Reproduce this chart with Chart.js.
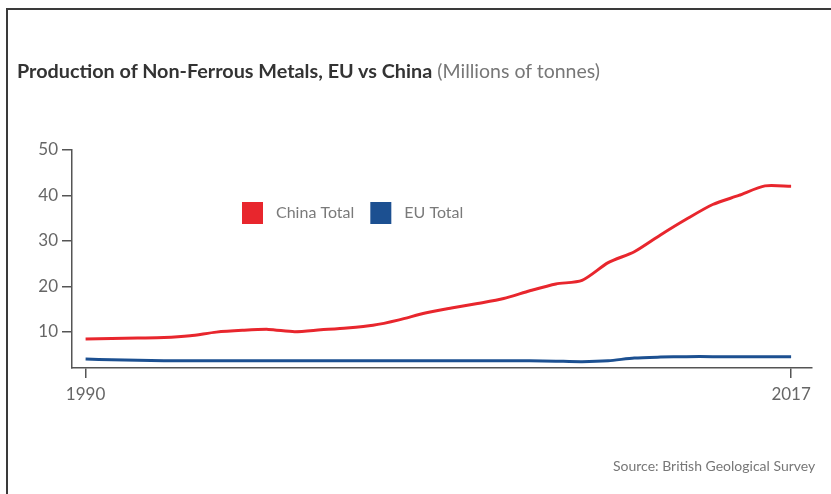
<!DOCTYPE html>
<html>
<head>
<meta charset="utf-8">
<script src="https://cdn.jsdelivr.net/npm/chart.js@4/dist/chart.umd.min.js"></script>
<style>
  body { margin: 0; background: #fff; }
  #lap { position: relative; width: 831px; height: 494px; overflow: hidden; background: #fff; }
  #lap canvas { position: absolute; left: 0; top: 0; }
  .keret-fent { position: absolute; left: 6px; top: 8px; right: 0; height: 2px; background: #3a3a3a; }
  .keret-bal { position: absolute; left: 6px; top: 8px; bottom: 0; width: 2px; background: #3a3a3a; }
  #cim { position: absolute; left: 17px; top: 58px; font-family: Lato, sans-serif; font-size: 19.8px; color: #333; white-space: nowrap; }
  #cim b { font-weight: 700; }
  #cim span { color: #777; font-weight: 400; font-size: 19.5px; }
  #forras { position: absolute; left: 613px; top: 457px; font-family: Lato, sans-serif; font-size: 14px; color: #777; white-space: nowrap; }
</style>
</head>
<body>
<div id="lap">
  <canvas id="grafikon" width="831" height="494"></canvas>
  <div class="keret-fent"></div>
  <div class="keret-bal"></div>
  <div id="cim"><b>Production of Non-Ferrous Metals, EU vs China</b> <span>(Millions of tonnes)</span></div>
  <div id="forras">Source: British Geological Survey</div>
</div>
<script>
// evek es ertekek (millio tonna), a kepről leolvasva
var evek = [1990, 1991, 1992, 1993, 1994, 1995, 1996, 1997, 1998, 1999,
            2000, 2001, 2002, 2003, 2004, 2005, 2006, 2007, 2008, 2009,
            2010, 2011, 2012, 2013, 2014, 2015, 2016, 2017];
var kinaOsszes = [8.4, 8.5, 8.6, 8.7, 9.1, 9.9, 10.3, 10.5, 10.0, 10.4,
                  10.8, 11.4, 12.6, 14.1, 15.2, 16.2, 17.3, 19.0, 20.5, 21.3,
                  25.2, 27.6, 31.3, 34.8, 38.0, 40.0, 42.1, 42.0];
var euOsszes = [4.0, 3.8, 3.7, 3.6, 3.6, 3.6, 3.6, 3.6, 3.6, 3.6,
                3.6, 3.6, 3.6, 3.6, 3.6, 3.6, 3.6, 3.6, 3.5, 3.4,
                3.6, 4.2, 4.4, 4.5, 4.5, 4.5, 4.5, 4.5];
var sorozatNevek = ["China Total", "EU Total"];
var xFeliratok = [1990, 2017];
var yFeliratok = [10, 20, 30, 40, 50];

function pontok(ertekek) {
    return ertekek.map(function (v, i) { return { x: evek[i], y: v }; });
}

// jelmagyarazat a rajzteruleten belul
var jelmagyarazat = {
    id: 'jelmagyarazat',
    afterDraw: function (chart) {
        var ctx = chart.ctx;
        var x = 242;
        ctx.save();
        ctx.font = '16px Lato';
        ctx.textBaseline = 'middle';
        chart.data.datasets.forEach(function (ds) {
            ctx.fillStyle = ds.borderColor;
            ctx.fillRect(x, 202, 21, 22);
            ctx.fillStyle = '#7a7a7a';
            ctx.fillText(ds.label, x + 34, 213);
            x += 34 + ctx.measureText(ds.label).width + 16;
        });
        ctx.restore();
    }
};

var tengelySzin = '#555';
var betu = { family: 'Lato', size: 17 };

new Chart(document.getElementById("grafikon"), {
    type: 'line',
    data: {
        datasets: [{
            label: sorozatNevek[0],
            data: pontok(kinaOsszes),
            borderColor: '#e8262d',
            backgroundColor: '#e8262d',
            borderWidth: 3,
            pointRadius: 0,
            tension: 0.25
        }, {
            label: sorozatNevek[1],
            data: pontok(euOsszes),
            borderColor: '#1c5091',
            backgroundColor: '#1c5091',
            borderWidth: 3,
            pointRadius: 0,
            tension: 0.25
        }]
    },
    options: {
        responsive: false,
        animation: false,
        layout: { padding: { top: 150, right: 19, left: 0, bottom: 0 } },
        plugins: {
            legend: { display: false },
            title: { display: false },
            tooltip: { enabled: false }
        },
        scales: {
            x: {
                type: 'linear',
                min: 1989.48,
                max: 2017.8,
                afterBuildTicks: function (axis) {
                    axis.ticks = xFeliratok.map(function (v) { return { value: v }; });
                },
                afterFit: function (axis) { axis.height = 126; },
                ticks: { color: '#666', font: betu, padding: 6, maxRotation: 0,
                         callback: function (v) { return String(v); } },
                grid: { drawOnChartArea: false, drawTicks: true, tickLength: 10, color: tengelySzin, lineWidth: 1.5 },
                border: { display: true, color: tengelySzin, width: 1.5 }
            },
            y: {
                min: 2,
                max: 50,
                afterBuildTicks: function (axis) {
                    axis.ticks = yFeliratok.map(function (v) { return { value: v }; });
                },
                afterFit: function (axis) { axis.width = 72; },
                ticks: { color: '#666', font: betu, padding: 4 },
                grid: { drawOnChartArea: false, drawTicks: true, tickLength: 10, color: tengelySzin, lineWidth: 1.5 },
                border: { display: true, color: tengelySzin, width: 1.5 }
            }
        }
    },
    plugins: [jelmagyarazat]
});
</script>
</body>
</html>
